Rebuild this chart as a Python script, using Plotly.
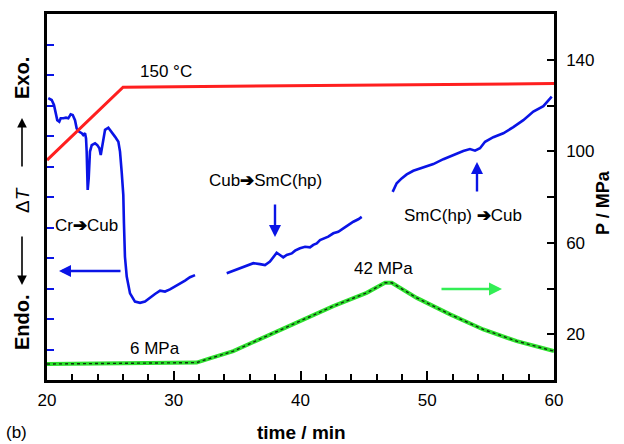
import plotly.graph_objects as go

# ---- data ----
# DTA signal (arbitrary units, left axis), three recorded segments
dta1_t = [20.10, 20.37, 20.55, 20.63, 20.81, 20.97, 21.08, 21.29, 21.50, 21.68, 21.87, 22.03, 22.21,
          22.34, 22.55, 22.74, 22.86, 23.00, 23.08, 23.13, 23.18, 23.21, 23.29, 23.39, 23.53, 23.79,
          23.97, 24.13, 24.24, 24.34, 24.44, 24.58, 24.84, 25.10, 25.36, 25.63, 25.76, 25.89, 26.02,
          26.07, 26.15, 26.29, 26.55, 26.94, 27.34, 27.73, 28.13, 28.52, 28.92, 29.31, 29.70, 30.10,
          30.49, 30.89, 31.28, 31.68]
dta1_v = [9.24, 9.18, 9.02, 8.85, 8.52, 8.47, 8.58, 8.58, 8.60, 8.58, 8.71, 8.69, 8.52,
          8.25, 8.14, 8.09, 8.03, 8.09, 7.92, 7.49, 6.72, 6.23, 6.61, 7.49, 7.70, 7.76,
          7.70, 7.60, 7.38, 7.60, 7.92, 8.20, 8.27, 8.14, 7.98, 7.81, 7.49, 6.83, 6.07,
          5.15, 4.04, 3.39, 2.84, 2.57, 2.53, 2.57, 2.71, 2.82, 2.93, 2.90, 2.97, 3.06,
          3.17, 3.26, 3.37, 3.44]
dta2_t = [34.18, 34.70, 35.23, 35.76, 36.28, 36.80, 37.20, 37.59, 37.85, 38.12, 38.38, 38.64, 38.91,
          39.31, 39.57, 39.96, 40.36, 40.75, 41.01, 41.28, 41.54, 41.93, 42.19, 42.59, 42.98, 43.38,
          43.77, 44.17, 44.56, 44.83]
dta2_v = [3.50, 3.58, 3.66, 3.74, 3.83, 3.80, 3.77, 3.88, 4.04, 4.17, 4.10, 4.02, 4.10,
          4.15, 4.24, 4.32, 4.37, 4.35, 4.43, 4.48, 4.59, 4.65, 4.70, 4.81, 4.86, 4.97,
          5.08, 5.19, 5.27, 5.35]
dta3_t = [47.27, 47.59, 47.98, 48.38, 48.90, 49.69, 50.48, 51.27, 52.06, 52.84, 53.37, 53.77, 54.16,
          54.56, 55.21, 56.00, 56.79, 57.58, 58.37, 59.16, 59.82]
dta3_v = [6.17, 6.45, 6.61, 6.74, 6.86, 6.97, 7.08, 7.24, 7.38, 7.51, 7.57, 7.52, 7.60,
          7.81, 7.96, 8.09, 8.29, 8.52, 8.80, 8.98, 9.29]

# temperature programme (left axis, arbitrary scale)
temp_t = [20.0, 26.0, 60.0]
temp_v = [7.21, 9.60, 9.72]

# pressure (right axis, MPa)
pres_t = [20.0, 31.81, 32.6, 34.7, 37.33, 39.96, 42.59, 45.22, 46.67, 47.2, 49.17, 51.8, 54.42, 57.06, 59.68, 60.0]
pres_v = [7.0, 7.6, 9.0, 12.6, 19.2, 25.7, 32.3, 38.1, 42.5, 42.5, 35.9, 28.7, 22.1, 17.0, 12.9, 12.6]

x_ticks = [20, 30, 40, 50, 60]
p_ticks = [20, 60, 100, 140]

BLUE = "#0a14e6"
RED = "#ff1f1f"
GREEN = "#2ee02e"
FONT = "Liberation Sans, Arial, sans-serif"

fig = go.Figure()
for tt, vv in [(dta1_t, dta1_v), (dta2_t, dta2_v), (dta3_t, dta3_v)]:
    fig.add_trace(go.Scatter(x=tt, y=vv, mode="lines", line=dict(color=BLUE, width=2.6),
                             showlegend=False, hoverinfo="skip"))
fig.add_trace(go.Scatter(x=temp_t, y=temp_v, mode="lines", line=dict(color=RED, width=3),
                         showlegend=False, hoverinfo="skip"))
fig.add_trace(go.Scatter(x=pres_t, y=pres_v, mode="lines", line=dict(color=GREEN, width=4),
                         yaxis="y2", showlegend=False, hoverinfo="skip"))
fig.add_trace(go.Scatter(x=pres_t, y=pres_v, mode="lines", line=dict(color="#103010", width=1.4, dash="dot"),
                         yaxis="y2", showlegend=False, hoverinfo="skip"))

L, R, T, B = 47, 554, 14, 380


def P(px, py):
    return (px - L) / (R - L), (B - py) / (B - T)


anns = []


def text(px, py, s, size=17, angle=0, bold=False, color="black", xanchor="center"):
    x, y = P(px, py)
    if bold:
        s = "<b>" + s + "</b>"
    anns.append(dict(x=x, y=y, xref="paper", yref="paper", text=s, showarrow=False,
                     textangle=angle, xanchor=xanchor, yanchor="middle",
                     font=dict(family=FONT, size=size, color=color)))


def arrow(hx, hy, tx, ty, color, width=2.2, head=2, size=1.0):
    x, y = P(hx, hy)
    anns.append(dict(x=x, y=y, xref="paper", yref="paper", text="", showarrow=True,
                     ax=tx - hx, ay=ty - hy, arrowcolor=color, arrowwidth=width,
                     arrowhead=head, arrowsize=size))


text(166, 72, "150 °C")
text(86, 225, "Cr<b>➔</b>Cub")
text(265, 181, "Cub<b>➔</b>SmC(hp)")
text(463, 216, "SmC(hp) <b>➔</b>Cub")
text(383, 268, "42 MPa")
text(155, 348, "6 MPa")
arrow(275, 237, 275, 203, BLUE, width=2.4)
arrow(477, 162, 477, 193, BLUE, width=2.4)
arrow(59, 271, 122, 271, BLUE, width=2.4)
arrow(502, 289, 440, 289, "#33ee55", width=2.6)

# left axis label: Endo. <- ΔT -> Exo.
text(22, 78, "Exo.", size=20, angle=-90, bold=True)
arrow(22, 118, 22, 168, "black", width=1.6, head=2, size=1.2)
text(22, 200, "Δ<i>T</i>", size=19, angle=-90)
arrow(22, 285, 22, 235, "black", width=1.6, head=2, size=1.2)
text(22, 322, "Endo.", size=20, angle=-90, bold=True)

text(603, 203, "P / MPa", size=18, angle=-90, bold=True)
text(301, 432, "time / min", size=19, bold=True)
text(4, 432, "(b)", size=17, xanchor="left")

fig.update_layout(
    width=624, height=444,
    margin=dict(l=L, r=624 - R, t=T, b=444 - B),
    paper_bgcolor="white", plot_bgcolor="white",
    font=dict(family=FONT, size=16, color="black"),
    annotations=anns,
    xaxis=dict(range=[20, 60], tickvals=x_ticks, ticks="inside", ticklen=9, tickwidth=2,
               tickcolor="black", showline=True, linecolor="black", linewidth=2.5, mirror=True,
               showgrid=False, zeroline=False, ticklabelstandoff=3, tickfont=dict(size=17),
               minor=dict(dtick=2, ticks="inside", ticklen=6, tickwidth=2, tickcolor="black")),
    yaxis=dict(range=[0, 12], dtick=1, ticks="inside", ticklen=7, tickwidth=2, tickcolor=BLUE,
               showticklabels=False, showline=True, linecolor="black", linewidth=2.5,
               showgrid=False, zeroline=False),
    yaxis2=dict(range=[0, 160], overlaying="y", side="right", tickvals=p_ticks, ticks="inside",
                ticklen=7, tickwidth=2, tickcolor="black", showline=True, linecolor="black",
                linewidth=2.5, showgrid=False, zeroline=False, ticklabelstandoff=6,
                tickfont=dict(size=17),
                minor=dict(tickvals=[40, 80, 120], ticks="inside", ticklen=7, tickwidth=2,
                           tickcolor="black")),
)

fig.write_html("out.html")
